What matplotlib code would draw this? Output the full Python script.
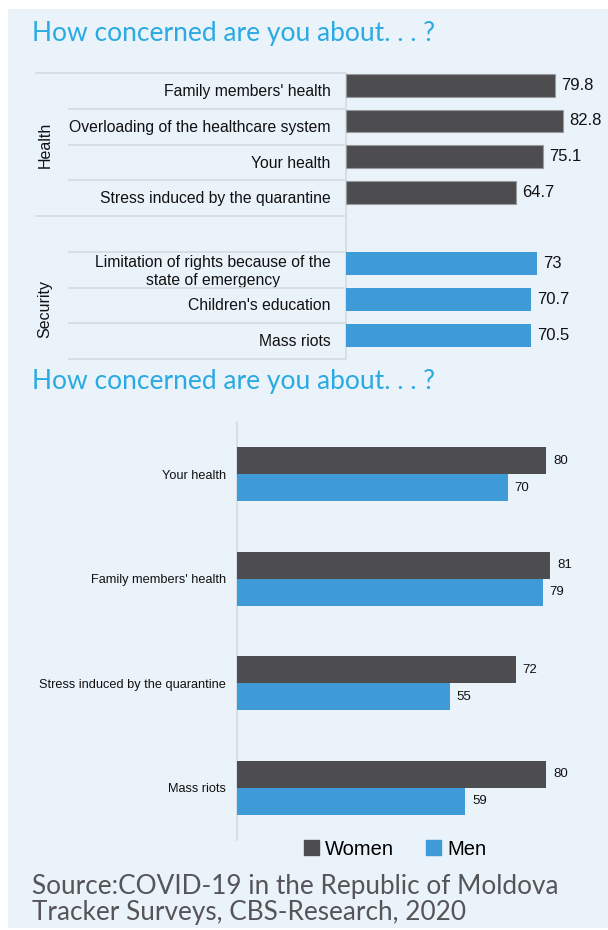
import matplotlib.pyplot as plt
from matplotlib.patches import Rectangle, Patch
from matplotlib.transforms import blended_transform_factory

# Overall concern, by topic (percent)
health_items = ["Family members' health", "Overloading of the healthcare system",
                "Your health", "Stress induced by the quarantine"]
health_values = [79.8, 82.8, 75.1, 64.7]
security_items = ["Limitation of rights because of the\nstate of emergency",
                  "Children's education", "Mass riots"]
security_values = [73, 70.7, 70.5]

# Concern by gender (percent)
gender_items = ["Your health", "Family members' health",
                "Stress induced by the quarantine", "Mass riots"]
women_values = [80, 81, 72, 80]
men_values = [70, 79, 55, 59]

DARK = "#4d4d4f"
BLUE = "#3e9bd7"
PANEL = "#eaf2fa"
TITLE_BLUE = "#2aaae2"
RULE = "#d5dbe1"

W, H = 608, 930
fig = plt.figure(figsize=(W / 100, H / 100), dpi=100)
fig.patch.set_facecolor("white")
fig.patches.append(Rectangle((8 / W, 1 - 928 / H), 1 - 8 / W, (928 - 9) / H,
                             transform=fig.transFigure, facecolor=PANEL,
                             edgecolor="none", zorder=-10))

title_font = dict(family=["Lato", "DejaVu Sans"], color=TITLE_BLUE, fontsize=19)
fig.text(32 / W, 1 - 34 / H, "How concerned are you about. . . ?", va="center", **title_font)
fig.text(32 / W, 1 - 381 / H, "How concerned are you about. . . ?", va="center", **title_font)

plt.rcParams["font.family"] = ["Liberation Sans", "DejaVu Sans"]

# ---- top chart: one slot per row, an empty slot between the two groups
ax1 = fig.add_axes([346 / W, 1 - 359 / H, (W - 346) / W, (359 - 73.3) / H])
ax1.set_facecolor("none")
n_slots = len(health_items) + 1 + len(security_items)
ax1.set_ylim(n_slots, 0)
ax1.set_xlim(0, 100)

health_slots = list(range(len(health_items)))
security_slots = [len(health_items) + 1 + i for i in range(len(security_items))]

ax1.barh([s + 0.335 for s in health_slots], health_values, height=0.635,
         color=DARK, edgecolor="#9a9a9c", linewidth=0.8, zorder=3)
ax1.barh([s + 0.335 for s in security_slots], security_values, height=0.635,
         color=BLUE, edgecolor="none", zorder=3)

for slots, values in ((health_slots, health_values), (security_slots, security_values)):
    for s, v in zip(slots, values):
        ax1.annotate(f"{v:g}", (v, s + 0.335), xytext=(4.5, 0), textcoords="offset points",
                     va="center", ha="left", fontsize=12, color="#111111")

ax1.set_yticks([s + 0.47 for s in health_slots + security_slots])
labels = ax1.set_yticklabels(health_items + security_items, fontsize=11.3, color="#111111")
for lab in labels:
    lab.set_multialignment("center")
ax1.tick_params(axis="y", length=0, pad=11)
ax1.set_xticks([])
for side in ("top", "right", "bottom"):
    ax1.spines[side].set_visible(False)
ax1.spines["left"].set_color(RULE)
ax1.spines["left"].set_linewidth(1.2)

# row rules; the ones at group boundaries reach under the group labels
rule_tf = blended_transform_factory(fig.transFigure, ax1.transData)
for y in range(n_slots + 1):
    x0 = 36 / W if y in (0, len(health_items)) else 69 / W
    ax1.plot([x0, 345 / W], [y, y], transform=rule_tf, color=RULE, lw=1.2, clip_on=False)

ax1.text(45 / W, len(health_items) / 2, "Health", transform=rule_tf, rotation=90,
         ha="center", va="center", fontsize=11.5, color="#111111")
ax1.text(45 / W, len(health_items) + 1 + len(security_items) / 2 + 0.1, "Security",
         transform=rule_tf, rotation=90, ha="center", va="center", fontsize=11.5, color="#111111")

# ---- bottom chart: women vs men
ax2 = fig.add_axes([237 / W, 1 - 840 / H, (W - 237) / W, (840 - 422) / H])
ax2.set_facecolor("none")
pos = list(range(len(gender_items)))
ax2.set_ylim(len(gender_items) - 0.5, -0.5)
ax2.set_xlim(0, 95.9)
bh = 0.26
ax2.barh([p - bh / 2 for p in pos], women_values, height=bh, color=DARK, zorder=3)
ax2.barh([p + bh / 2 for p in pos], men_values, height=bh, color=BLUE, zorder=3)
for p, w, m in zip(pos, women_values, men_values):
    ax2.annotate(str(w), (w, p - bh / 2), xytext=(5, 0), textcoords="offset points",
                 va="center", fontsize=9.5, color="#111111")
    ax2.annotate(str(m), (m, p + bh / 2), xytext=(5, 0), textcoords="offset points",
                 va="center", fontsize=9.5, color="#111111")
ax2.set_yticks(pos)
ax2.set_yticklabels(gender_items, fontsize=9.2, color="#111111")
ax2.tick_params(axis="y", length=0, pad=8)
ax2.set_xticks([])
for side in ("top", "right", "bottom"):
    ax2.spines[side].set_visible(False)
ax2.spines["left"].set_color(RULE)
ax2.spines["left"].set_linewidth(1.2)

fig.legend(handles=[Patch(color=DARK, label="Women"), Patch(color=BLUE, label="Men")],
           loc="center", bbox_to_anchor=(395 / W, 1 - 849 / H), ncol=2, frameon=False,
           fontsize=14.5, handlelength=0.75, handleheight=0.75, handletextpad=0.3,
           columnspacing=1.6, borderaxespad=0)

fig.text(32 / W, 1 - 899 / H, "Source:COVID-19 in the Republic of Moldova\nTracker Surveys, CBS-Research, 2020",
         va="center", ha="left", family=["Lato", "DejaVu Sans"],
         fontsize=18.8, color="#555558", linespacing=1.05)

fig.savefig("out.png", dpi=100, facecolor=fig.get_facecolor())
